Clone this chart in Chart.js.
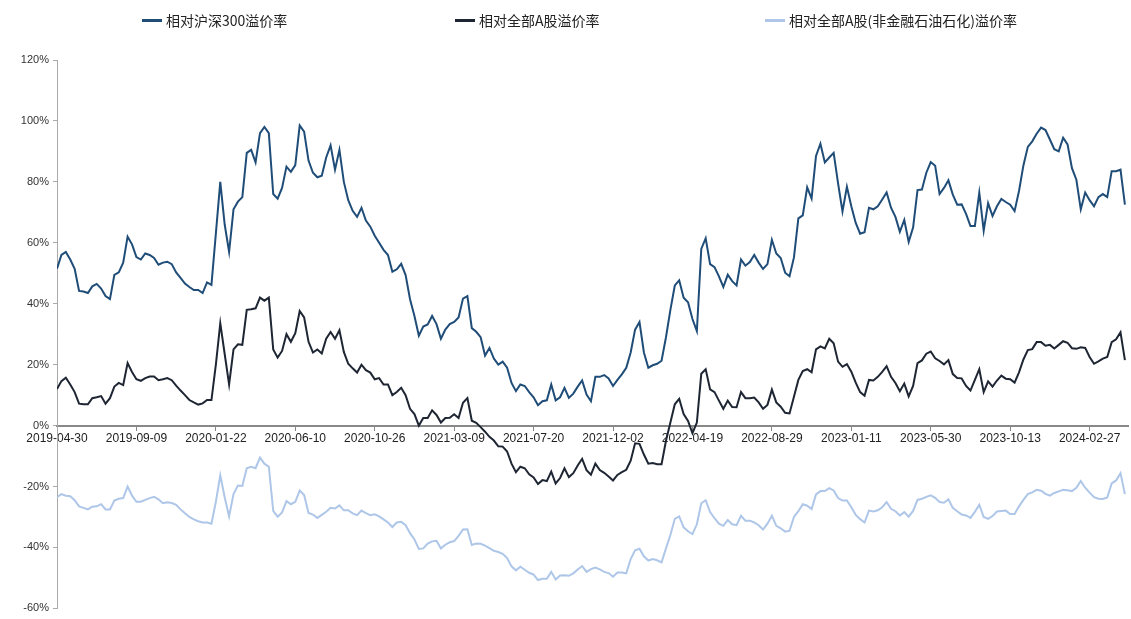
<!DOCTYPE html>
<html>
<head>
<meta charset="utf-8">
<script src="https://cdn.jsdelivr.net/npm/chart.js@4.4.1/dist/chart.umd.min.js"></script>
<style>
  html, body { margin: 0; padding: 0; background: #fff; }
  #wrap { position: relative; width: 1131px; height: 619px; }
  #chart { position: absolute; left: 0; top: 0; }
  .legend-item {
    position: absolute; top: 11px; height: 18px;
    display: flex; align-items: center;
    font-family: "Noto Sans CJK SC", "Noto Sans", sans-serif;
    font-size: 14px; color: #222; white-space: nowrap;
  }
  .legend-item span.swatch { display: inline-block; width: 20px; height: 3px; margin-right: 4px; }
</style>
</head>
<body>
<div id="wrap">
  <canvas id="chart" width="1131" height="619"></canvas>
  <div class="legend-item" style="left:142px"><span class="swatch" style="background:#1f4d78"></span>相对沪深300溢价率</div>
  <div class="legend-item" style="left:455px"><span class="swatch" style="background:#1e2533"></span>相对全部A股溢价率</div>
  <div class="legend-item" style="left:765px"><span class="swatch" style="background:#aec6e8"></span>相对全部A股(非金融石油石化)溢价率</div>
</div>
<script>
// x axis labels; samples are weekly (5 trading days), one label every 18 samples
const tickLabels = ['2019-04-30', '2019-09-09', '2020-01-22', '2020-06-10', '2020-10-26',
  '2021-03-09', '2021-07-20', '2021-12-02', '2022-04-19', '2022-08-29',
  '2023-01-11', '2023-05-30', '2023-10-13', '2024-02-27'];
const samplesPerTick = 18;

// premium vs CSI 300, %
const hs300Premium = [
  51.5, 56, 57, 54.5, 51.5, 44.2, 44, 43.5, 45.7, 46.5,
  45, 42.5, 41.5, 49.5, 50.3, 53.5, 62, 59.5, 55.3, 54.5,
  56.5, 56, 55, 52.8, 53.5, 53.8, 53, 50.3, 48.5, 46.6,
  45.5, 44.5, 44.5, 43.5, 47, 46.2, 63, 80, 66, 57,
  71, 73.5, 75, 89.5, 90.5, 86.4, 96, 98, 96, 76,
  74.5, 78, 85, 83.3, 85.5, 98.5, 96.5, 87, 83, 81.5,
  82, 88, 92, 84, 90.5, 80, 74, 70.5, 68.5, 71.5,
  67.3, 65.3, 62.3, 60, 57.7, 56, 50.5, 51.3, 53.1, 49.4,
  41.5, 36, 29.5, 32.5, 33.2, 36, 33.3, 28.5, 31.5, 33.3,
  34, 35.5, 41.7, 42.5, 32, 30.8, 29, 23, 25.5, 22,
  20, 21, 19, 14, 11.3, 13.5, 13, 11, 9.3, 6.7,
  8, 8.3, 13.5, 8.3, 9.3, 12.4, 9.1, 10.5, 12.8, 14.8,
  10.2, 8, 16, 16, 16.6, 15.5, 13, 15, 16.8, 19,
  24, 31.5, 34, 24, 19, 19.8, 20.3, 21.3, 29, 38,
  46, 47.7, 42, 40.5, 35, 31, 58, 61.5, 53, 52,
  49, 45.5, 49.5, 47.4, 46, 54.5, 52.5, 53.7, 56, 53.5,
  51.4, 53, 61, 56.5, 55, 50.2, 49, 55.2, 68, 69,
  78.2, 74.5, 88.5, 92.5, 86.4, 88, 89.5, 79.5, 70.3, 78.4,
  72, 66.5, 63, 63.5, 71.5, 71, 72, 74.2, 76.5, 71.5,
  68.5, 63.6, 67.5, 60.3, 65, 77.3, 77.5, 83, 86.5, 85.3,
  76, 78, 80.5, 75.8, 72.5, 72.6, 69.5, 65.5, 65.5, 76.5,
  64, 73, 68.8, 72, 74.4, 73.4, 72.5, 70.4, 77, 85.4,
  91.5, 93.3, 95.8, 97.8, 97, 93.9, 90.7, 90, 94.5, 92.3,
  84.5, 80.7, 71, 76.5, 74, 72, 75, 76, 75, 83.5,
  83.5, 84, 72.5
];

// premium vs all A shares, %
const allAPremium = [
  12, 14.6, 15.7, 13.5, 11, 7.2, 7, 7, 9, 9.3,
  9.7, 7.2, 9, 12.8, 14, 13.3, 20.5, 17.6, 15.2, 14.7,
  15.6, 16.1, 16.1, 14.9, 15.2, 15.6, 14.9, 13.1, 11.5, 10,
  8.4, 7.6, 6.9, 7.3, 8.4, 8.4, 20, 33.6, 23.5, 13.5,
  25, 26.7, 26.5, 38, 38.2, 38.5, 42, 41, 42, 25,
  22.3, 24.5, 30, 27.5, 30.3, 37.6, 35.5, 27.5, 24, 25,
  23.7, 28.5, 30.7, 28.5, 31.3, 24.2, 20.3, 18.8, 17.4, 20,
  18.2, 17.4, 15.2, 15.6, 13.5, 13.5, 10, 11, 12.4, 10,
  5.5, 3.8, 0, 2.5, 2.5, 5, 3.5, 1, 2.5, 2.6,
  3.7, 2.5, 7.5, 9, 1.6, 0.9, -0.5, -2, -3.7, -4.9,
  -6.8, -6.9, -8.5, -12.5, -15.3, -13.5, -14, -16, -17, -19.2,
  -17.9, -18.2, -15.1, -19, -17.2, -14, -16.9, -15.6, -13.1, -10.9,
  -14.6, -16.1, -12.5, -14.6, -15.5, -16.7, -18, -16.2, -15.3, -14.5,
  -11.5, -5.8, -6, -9.5, -12.5, -12.3, -12.7, -12.7, -5, 1,
  7, 8.8, 3.8, 1.5, -2.5, 1, 17, 18.5, 11.9, 11,
  8.2, 5.5, 8.2, 6.1, 6, 11, 9, 9, 9.2, 7.6,
  5.5, 6.8, 11.8, 7.6, 6.2, 4.2, 4, 9.5, 15, 17.9,
  18.5, 17.5, 25, 26, 25.3, 28.5, 27, 21, 19.3, 20.2,
  17.7, 14.1, 11, 9.8, 15, 14.8, 16, 17.6, 19.5, 16,
  14, 11.3, 13.8, 9.6, 13, 20.5, 21.4, 23.6, 24.3, 22.1,
  21.2, 20.1, 21.5, 16.9, 15.6, 15.5, 13, 11.5, 15, 18.5,
  11, 14.5, 12.8, 14.8, 16.4, 15.4, 15.2, 14.1, 17.5, 21.7,
  24.8, 25.1, 27.4, 27.4, 26.2, 26.5, 25.3, 26.5, 27.7, 27.2,
  25.4, 25.2, 25.7, 25.5, 22.5, 20.3, 21.1, 22, 22.5, 27.4,
  28.3, 30.6, 21.5
];

// premium vs all A shares excluding financials and PetroChina/Sinopec, %
const exFinPremium = [
  -23.5, -22.5, -23, -23.2, -24.5, -26.5, -27, -27.5, -26.6, -26.5,
  -25.8, -27.5, -27.5, -24.6, -24, -23.8, -20, -23, -25, -25,
  -24.4, -23.8, -23.4, -24.2, -25.5, -25.2, -25.4, -26, -27.5, -28.8,
  -30, -30.8, -31.4, -31.8, -31.8, -32.2, -25, -16.3, -23.5, -29.8,
  -22.5, -19.7, -19.8, -14, -13.5, -14, -10.5, -12.5, -13.5, -28,
  -29.9, -28.5, -24.8, -25.8, -25, -21.3, -22.8, -28.7, -29.2, -30.3,
  -29.3, -28.3, -27, -27.2, -26.2, -27.8, -27.8, -28.8, -29.4, -27.9,
  -28.7, -29.4, -29.1, -29.8, -30.8, -31.8, -33.3, -31.8, -31.6, -32.7,
  -35.3, -37.4, -40.5, -40.3, -38.7, -38, -37.8, -40.3, -39.1, -38.3,
  -37.9, -36.2, -34.1, -34, -39.2, -38.7, -38.8, -39.4, -40.2, -41.1,
  -41.5, -42.1, -43.5, -46.2, -47.5, -46.3, -47.3, -48.3, -48.9, -50.7,
  -50.3, -50.3, -48, -50.5, -49.2, -49.1, -49.3, -48.5, -47.2, -46.1,
  -48, -47.1, -46.6, -47.2, -48, -48.4, -49.6, -48.2, -48.2, -48.5,
  -43.8, -40.9, -40.4, -42.9, -44.3, -43.8, -44.2, -44.9, -40.3, -35.9,
  -30.6, -29.8, -33.4, -34.7, -35.6, -32.4, -25.5, -24.5, -28.4, -30.4,
  -32.2, -32.9, -31, -32.4, -32.7, -29.6, -31.2, -31.2, -31.8, -32.7,
  -34.1, -32.2, -29.6, -32.9, -33.7, -34.8, -34.5, -30, -28.1, -25.8,
  -26.3, -27.4, -22.6, -21.5, -21.5, -20.5, -21.3, -23.8, -24.6, -24.6,
  -26.8, -29.3, -30.7, -31.8, -27.9, -28.2, -27.8, -26.8, -25.1, -27.3,
  -28.1, -29.5, -28.4, -29.9, -28, -24.4, -24, -23.4, -22.9, -23.7,
  -25.1, -25.3, -24.2, -27, -28.1, -29.2, -29.5, -30.3, -28.3, -26,
  -30, -30.6, -29.7, -28.2, -28, -27.9, -29, -29, -26.5, -24.4,
  -22.5, -21.9, -21.1, -21.4, -22.4, -23, -22.1, -21.6, -21.1, -21.2,
  -21.5, -20.4, -18.2, -20.4, -22, -23.5, -24, -24.1, -23.6, -19,
  -18, -15.6, -22.5
];

const toPoints = (arr) => arr.map((v, i) => ({ x: i, y: v }));

function makeSet(label, arr, color) {
  return {
    label: label,
    data: toPoints(arr),
    borderColor: color,
    backgroundColor: color,
    borderWidth: 2,
    pointRadius: 0,
    tension: 0
  };
}

Chart.defaults.font.family = '"Liberation Sans", Arial, sans-serif';
Chart.defaults.color = '#333';

new Chart(document.getElementById('chart'), {
  type: 'line',
  data: {
    datasets: [
      makeSet('相对沪深300溢价率', hs300Premium, '#1f4d78'),
      makeSet('相对全部A股溢价率', allAPremium, '#1e2533'),
      makeSet('相对全部A股(非金融石油石化)溢价率', exFinPremium, '#aec6e8')
    ]
  },
  options: {
    responsive: false,
    animation: false,
    layout: { padding: { top: 60, right: 3, bottom: 7, left: 0 } },
    plugins: { legend: { display: false }, tooltip: { enabled: false } },
    scales: {
      x: {
        type: 'linear',
        position: { y: 0 },
        min: 0,
        max: 242.7,
        afterBuildTicks: (scale) => {
          scale.ticks = tickLabels.map((t, k) => ({ value: k * samplesPerTick }));
        },
        ticks: {
          autoSkip: false,
          maxRotation: 0,
          padding: 2,
          font: { size: 12 },
          color: '#222',
          callback: (value) => tickLabels[Math.round(value / samplesPerTick)]
        },
        grid: { drawOnChartArea: false, drawTicks: true, tickLength: 4, color: '#888' },
        border: { display: true, color: '#888', width: 2 }
      },
      y: {
        min: -60,
        max: 120,
        afterFit: (scale) => { scale.width = 57; },
        ticks: {
          stepSize: 20,
          padding: 4,
          font: { size: 11 },
          color: '#333',
          callback: (value) => value + '%'
        },
        grid: { drawOnChartArea: false, drawTicks: true, tickLength: 4, color: '#aaa' },
        border: { display: true, color: '#aaa', width: 1 }
      }
    }
  }
});
</script>
</body>
</html>
